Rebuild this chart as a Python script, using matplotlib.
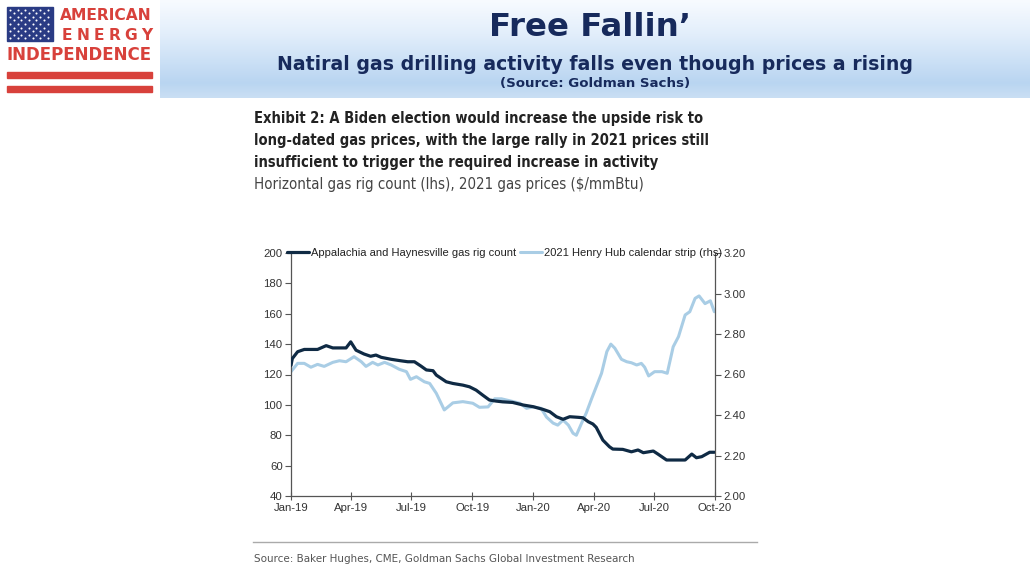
import os
import numpy as np
import pandas as pd
import matplotlib
matplotlib.use("Agg")
import matplotlib.pyplot as plt
import matplotlib.dates as mdates
from matplotlib import font_manager as fm
from matplotlib.colors import LinearSegmentedColormap
from matplotlib.patches import Rectangle

# ---------------- data ----------------
rig_dates = ["2019-01-01", "2019-01-03", "2019-01-11", "2019-01-21", "2019-02-10", "2019-02-23",
             "2019-03-05", "2019-03-25", "2019-04-01", "2019-04-09", "2019-04-21", "2019-05-01",
             "2019-05-09", "2019-05-17", "2019-06-01", "2019-06-16", "2019-06-26", "2019-07-06",
             "2019-07-16", "2019-07-24", "2019-08-03", "2019-08-08", "2019-08-23", "2019-09-02",
             "2019-09-17", "2019-09-27", "2019-10-07", "2019-10-17", "2019-10-27", "2019-11-06",
             "2019-11-16", "2019-12-01", "2019-12-17", "2020-01-01", "2020-01-16", "2020-01-26",
             "2020-02-05", "2020-02-15", "2020-02-25", "2020-03-09", "2020-03-16", "2020-03-24",
             "2020-03-31", "2020-04-05", "2020-04-15", "2020-04-25", "2020-04-30", "2020-05-15",
             "2020-05-28", "2020-06-07", "2020-06-15", "2020-06-30", "2020-07-07", "2020-07-20",
             "2020-08-17", "2020-08-27", "2020-09-03", "2020-09-11", "2020-09-23", "2020-09-30"]
rig_count = [126, 130.5, 135, 136.5, 136.5, 139, 137.5, 137.5, 141.5, 136, 133.5, 132,
             132.8, 131.3, 130, 129, 128.4, 128.4, 125.5, 123, 122.5, 119.6, 115.2, 114.1,
             113, 111.9, 109.7, 106.4, 103.2, 102.5, 102, 101.6, 99.9, 98.8, 97, 95.5,
             92.2, 90.5, 92.2, 91.8, 91.5, 88.9, 87.4, 85.2, 76.8, 72.4, 70.9, 70.7,
             69.1, 70.3, 68.5, 69.6, 67.6, 63.7, 63.7, 67.6, 65.2, 65.9, 68.8, 68.8]

hh_dates = ["2019-01-01", "2019-01-11", "2019-01-21", "2019-01-31", "2019-02-10", "2019-02-20",
            "2019-03-05", "2019-03-15", "2019-03-25", "2019-04-06", "2019-04-17", "2019-04-24",
            "2019-05-04", "2019-05-12", "2019-05-22", "2019-06-01", "2019-06-13", "2019-06-24",
            "2019-06-30", "2019-07-09", "2019-07-21", "2019-07-29", "2019-08-08", "2019-08-20",
            "2019-09-02", "2019-09-17", "2019-10-02", "2019-10-12", "2019-10-25", "2019-11-04",
            "2019-11-14", "2019-11-27", "2019-12-12", "2019-12-22", "2020-01-01", "2020-01-13",
            "2020-01-21", "2020-01-31", "2020-02-07", "2020-02-15", "2020-02-23", "2020-03-01",
            "2020-03-06", "2020-03-14", "2020-03-21", "2020-03-29", "2020-04-13", "2020-04-21",
            "2020-04-27", "2020-05-03", "2020-05-13", "2020-05-21", "2020-05-28", "2020-06-05",
            "2020-06-12", "2020-06-17", "2020-06-23", "2020-07-02", "2020-07-13", "2020-07-21",
            "2020-07-30", "2020-08-07", "2020-08-17", "2020-08-24", "2020-09-01", "2020-09-07",
            "2020-09-16", "2020-09-24", "2020-09-30"]
hh_price = [2.614, 2.655, 2.655, 2.636, 2.65, 2.64, 2.66, 2.668, 2.663, 2.688, 2.663, 2.64,
            2.66, 2.647, 2.66, 2.647, 2.626, 2.614, 2.576, 2.589, 2.564, 2.556, 2.507, 2.425,
            2.46, 2.466, 2.458, 2.438, 2.44, 2.48, 2.48, 2.47, 2.458, 2.433, 2.44, 2.433,
            2.39, 2.36, 2.35, 2.375, 2.35, 2.31, 2.30, 2.36, 2.41, 2.48, 2.606, 2.713,
            2.75, 2.73, 2.675, 2.663, 2.658, 2.647, 2.655, 2.636, 2.593, 2.614, 2.614, 2.606,
            2.737, 2.787, 2.894, 2.91, 2.976, 2.988, 2.95, 2.964, 2.91]

series_labels = ["Appalachia and Haynesville gas rig count", "2021 Henry Hub calendar strip (rhs)"]
left_ticks = [40, 60, 80, 100, 120, 140, 160, 180, 200]
right_ticks = [2.00, 2.20, 2.40, 2.60, 2.80, 3.00, 3.20]
x_start, x_end = "2019-01-01", "2020-10-01"

title = "Free Fallin\u2019"
subtitle = "Natiral gas drilling activity falls even though prices a rising"
source_hdr = "(Source: Goldman Sachs)"
exhibit_lines = ["Exhibit 2: A Biden election would increase the upside risk to",
                 "long-dated gas prices, with the large rally in 2021 prices still",
                 "insufficient to trigger the required increase in activity"]
exhibit_sub = "Horizontal gas rig count (lhs), 2021 gas prices ($/mmBtu)"
source_txt = "Source: Baker Hughes, CME, Goldman Sachs Global Investment Research"

# ---------------- fonts ----------------
def find_font(keys):
    files = [f.fname for f in fm.fontManager.ttflist]
    for k in keys:
        for fn in files:
            if os.path.basename(fn).lower().startswith(k.lower()):
                return fm.FontProperties(fname=fn)
    return None

narrow_bold = find_font(["LiberationSansNarrow-Bold.", "DejaVuSansCondensed-Bold.",
                         "RobotoCondensed-Bold", "OpenSans_Condensed-Bold",
                         "OpenSans-CondensedBold"])
narrow_reg = find_font(["LiberationSansNarrow-Regular.", "DejaVuSansCondensed.",
                        "RobotoCondensed-Regular", "OpenSans_Condensed-Regular",
                        "OpenSans-CondensedRegular"])
if narrow_bold is None:
    narrow_bold = fm.FontProperties(family=["Liberation Sans", "DejaVu Sans"], weight="bold")
if narrow_reg is None:
    narrow_reg = fm.FontProperties(family=["Liberation Sans", "DejaVu Sans"])

# ---------------- figure ----------------
W, H = 1030, 579
fig = plt.figure(figsize=(W / 100, H / 100), dpi=100)
fig.patch.set_facecolor("white")

def fx(px):
    return px / W

def fy(py):
    return 1 - py / H

NAVY = "#172a5c"
RED = "#d8413b"
DARK = "#0f2a44"
LIGHT = "#a9cde5"
ARIAL = ["Liberation Sans", "DejaVu Sans"]

# header gradient band
hax = fig.add_axes([fx(160), fy(98), fx(870), 98 / H])
hax.set_axis_off()
cmap = LinearSegmentedColormap.from_list("hdr", [(0, "#f8fbff"), (0.35, "#e2eefb"),
                                                 (0.85, "#b9d5f1"), (1.0, "#cadff4")])
grad = np.linspace(0, 1, 200).reshape(-1, 1)
hax.imshow(grad, aspect="auto", cmap=cmap, extent=[0, 1, 1, 0])
hax.set_xlim(0, 1)
hax.set_ylim(1, 0)

# logo
lax = fig.add_axes([0, fy(100), fx(160), 100 / H])
lax.set_xlim(0, 160)
lax.set_ylim(100, 0)
lax.set_axis_off()
lax.add_patch(Rectangle((0, 0), 160, 100, color="white", zorder=0))
lax.add_patch(Rectangle((7, 7), 46, 34, color="#2a3b84", zorder=1))
sx, sy = [], []
for r in range(9):
    xs = np.arange(10, 52, 7.5) if r % 2 == 0 else np.arange(13.7, 50, 7.5)
    for xv in xs:
        sx.append(xv)
        sy.append(9.5 + r * 3.6)
lax.scatter(sx, sy, s=2.2, color="white", zorder=2, linewidths=0)
lax.text(106, 15, "AMERICAN", color=RED, fontsize=11.2, fontweight="bold",
         ha="center", va="center", family=["DejaVu Sans"])
for i, ch in enumerate("ENERGY"):
    lax.text(67 + i * 16, 35, ch, color=RED, fontsize=11.2, fontweight="bold",
             ha="center", va="center", family=["DejaVu Sans"])
lax.text(79.5, 55, "INDEPENDENCE", color=RED, fontsize=12.0, fontweight="bold",
         ha="center", va="center", family=["DejaVu Sans"])
lax.add_patch(Rectangle((7, 71.5), 145, 6, color=RED, zorder=1))
lax.add_patch(Rectangle((7, 85.5), 145, 6, color=RED, zorder=1))

fitted = []  # (text, target width px)

# header texts
t = fig.text(fx(590), fy(28), title, color=NAVY, fontsize=22, fontweight="bold",
             ha="center", va="center", family=["DejaVu Sans"])
fitted.append((t, 201))
t = fig.text(fx(595), fy(64), subtitle, color=NAVY, fontsize=13, fontweight="bold",
             ha="center", va="center", family=["DejaVu Sans"])
fitted.append((t, 631))
t = fig.text(fx(595), fy(84), source_hdr, color=NAVY, fontsize=9.5, fontweight="bold",
             ha="center", va="center", family=["DejaVu Sans"])
fitted.append((t, 191))

# exhibit titles
ex_texts = []
for i, line in enumerate(exhibit_lines):
    t = fig.text(fx(254), fy(119 + i * 21.5), line, color="#222222", fontsize=12,
                 ha="left", va="center", fontproperties=narrow_bold)
    t.set_fontsize(12)
    ex_texts.append(t)
t = fig.text(fx(254), fy(185), exhibit_sub, color="#444444",
             ha="left", va="center", fontproperties=narrow_reg)
t.set_fontsize(12)
fitted.append((t, 389))

# source at bottom
fig.add_artist(plt.Line2D([fx(253), fx(757)], [fy(542), fy(542)], color="#aaaaaa", lw=1.0))
ts = fig.text(fx(254), fy(559), source_txt, color="#555555",
              ha="left", va="center", fontproperties=narrow_reg)
ts.set_fontsize(10)
fitted.append((ts, 379))

# ---------------- chart ----------------
ax = fig.add_axes([fx(291), fy(496), fx(424), 243 / H])
ax2 = ax.twinx()

d_rig = pd.to_datetime(rig_dates)
d_hh = pd.to_datetime(hh_dates)

l2, = ax2.plot(d_hh, hh_price, color=LIGHT, lw=2.2, solid_capstyle="round", zorder=2)
l1, = ax.plot(d_rig, rig_count, color=DARK, lw=2.3, solid_capstyle="round", zorder=3)
ax.set_zorder(ax2.get_zorder() + 1)
ax.patch.set_visible(False)

ax.set_xlim(pd.Timestamp(x_start), pd.Timestamp(x_end))
ax.set_ylim(left_ticks[0], left_ticks[-1])
ax2.set_ylim(right_ticks[0], right_ticks[-1])
ax.set_yticks(left_ticks)
ax2.set_yticks(right_ticks)
ax2.yaxis.set_major_formatter(matplotlib.ticker.FormatStrFormatter("%.2f"))
ax.xaxis.set_major_locator(mdates.MonthLocator(bymonth=[1, 4, 7, 10]))
ax.xaxis.set_major_formatter(mdates.DateFormatter("%b-%y"))

for a in (ax, ax2):
    a.spines["top"].set_visible(False)
    for s in ("left", "right", "bottom"):
        a.spines[s].set_color("#555555")
        a.spines[s].set_linewidth(0.9)
ax.spines["right"].set_visible(False)
ax2.spines["left"].set_visible(False)
ax2.spines["bottom"].set_visible(False)

ax.tick_params(axis="y", direction="out", length=4, width=0.8, color="#555555",
               labelsize=8.2, labelcolor="#333333", pad=2)
ax2.tick_params(axis="y", direction="out", length=4, width=0.8, color="#555555",
                labelsize=8.2, labelcolor="#333333", pad=2)
ax.tick_params(axis="x", direction="inout", length=6, width=0.8, color="#555555",
               labelsize=8.2, labelcolor="#333333", pad=2)
for lab in ax.get_xticklabels() + ax.get_yticklabels() + ax2.get_yticklabels():
    lab.set_family(ARIAL)

leg = ax.legend([l1, l2], series_labels, loc="center left", bbox_to_anchor=(-0.01, 1.0),
                ncol=2, frameon=False, handlelength=2.0, handletextpad=0.15,
                columnspacing=0.35, prop={"family": ARIAL, "size": 8.0}, borderpad=0,
                borderaxespad=0)
for t in leg.get_texts():
    t.set_color("#222222")

# fit text sizes to the reference widths
fig.canvas.draw()
r = fig.canvas.get_renderer()
for t, target in fitted:
    w = t.get_window_extent(r).width
    t.set_fontsize(t.get_fontsize() * target / w)
w = ex_texts[0].get_window_extent(r).width
fs = 12 * 446 / w
for t in ex_texts:
    t.set_fontsize(fs)

fig.savefig("out.png", dpi=100, facecolor="white")
